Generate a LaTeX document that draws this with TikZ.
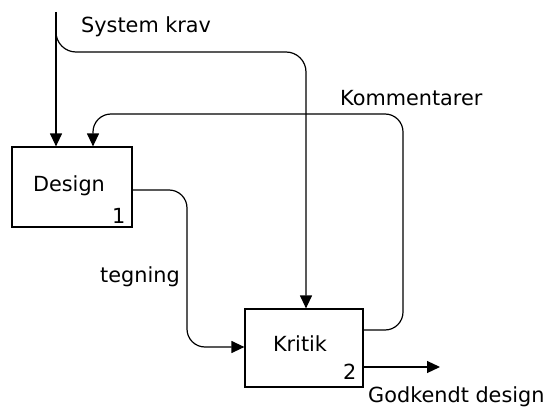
\documentclass[tikz,border=0pt]{standalone}
\usepackage{fontspec}
\setmainfont{DejaVu Sans}
\usetikzlibrary{arrows.meta}
\begin{document}
\begin{tikzpicture}[x=1pt,y=-1pt,
  every node/.style={font=\fontsize{20.8}{25}\selectfont},
  activity/.style={draw,line width=1.2pt,minimum width=120pt,minimum height=80pt,inner sep=0pt},
  flow/.style={line width=1.2pt,-{Triangle[length=13pt,width=12pt]}},
  lbl/.style={inner sep=0pt,anchor=base west}]
\useasboundingbox (0,0) rectangle (549,412);

% activities
\node[activity] (design) at (72,187) {};
\node[activity,minimum width=118pt,minimum height=78pt] (kritik) at (304,348) {};
\node at (69,186) {Design};
\node[lbl] (n1) at (112,223) {1};
\node at (300,344) {Kritik};
\node[lbl] (n2) at (343,379) {2};

% free ends
\coordinate (sk) at (56,12);
\coordinate (skb) at (56,30);
\coordinate (out) at (440,367);

% requirements into both activities
\draw[flow] (sk) -- (design.north -| sk);
\draw[flow,rounded corners=20pt] (skb) -- (56,52) -- (306,52) -- (kritik.north -| 306,0);

% drawing from design to critique
\draw[flow,rounded corners=18pt] (design.east |- 0,190) -- (187,190) -- (187,347) -- (kritik.west |- 0,347);

% comments back to design
\draw[flow,rounded corners=18pt] (kritik.east |- 0,330) -- (403,330) -- (403,114) -- (93,114) -- (design.north -| 93,0);

% approved design out
\draw[flow] (kritik.east |- out) -- (out);

% labels
\node[lbl] (lsk) at (81,33) {System krav};
\node[lbl] (lko) at (340,106) {Kommentarer};
\node[lbl] (lte) at (100,282) {tegning};
\node[lbl] (lgo) at (368,402) {Godkendt design};
\end{tikzpicture}
\end{document}
